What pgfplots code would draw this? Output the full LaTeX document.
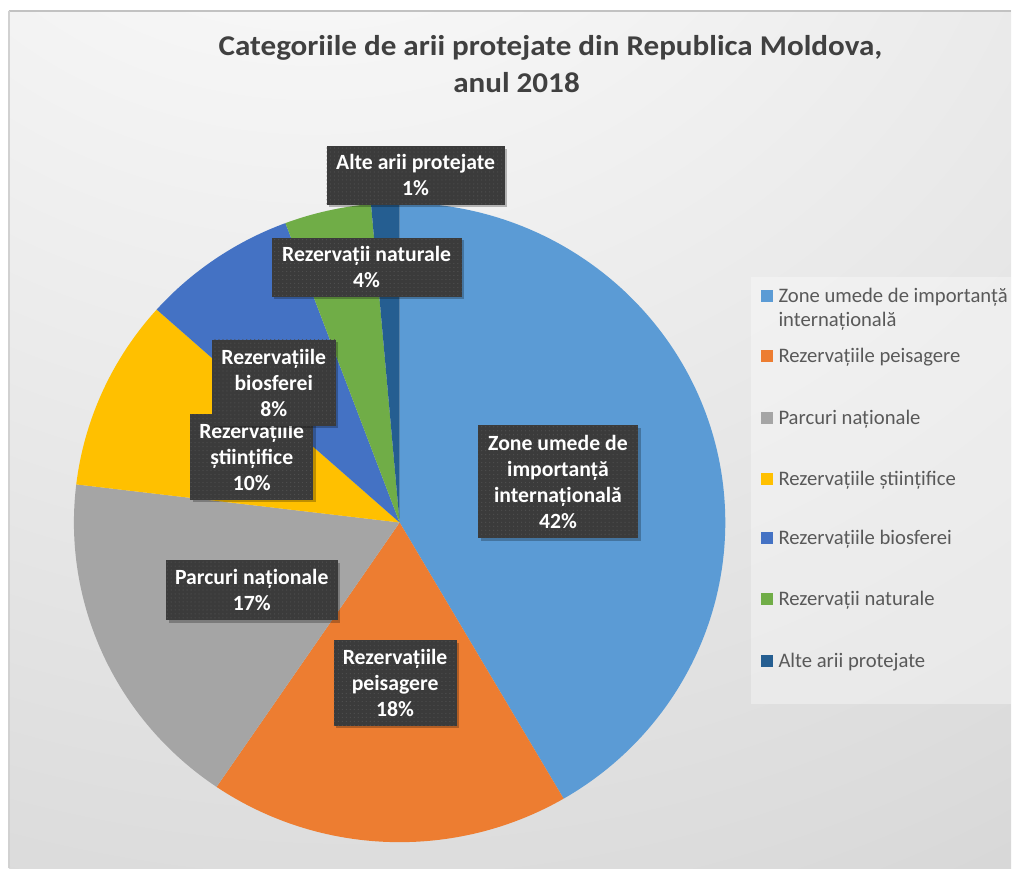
\documentclass[border=0pt]{standalone}
\usepackage{pgfplots}
\pgfplotsset{compat=1.18}
\usepackage{pgfplotstable}
\usepackage{fontspec}
\setmainfont{Carlito}
\newfontfamily\titlefont[FakeStretch=1.086]{Carlito}
\usetikzlibrary{shadows,patterns}

\definecolor{slice0}{HTML}{5B9BD5}
\definecolor{slice1}{HTML}{ED7D31}
\definecolor{slice2}{HTML}{A5A5A5}
\definecolor{slice3}{HTML}{FFC000}
\definecolor{slice4}{HTML}{4472C4}
\definecolor{slice5}{HTML}{70AD47}
\definecolor{slice6}{HTML}{255E91}
\definecolor{lblbg}{HTML}{3B3B3B}
\definecolor{lbldot}{HTML}{4E4E4E}
\definecolor{titlecol}{HTML}{404040}
\definecolor{legtext}{HTML}{595959}

\pgfdeclareradialshading{bgshade}{\pgfpoint{-11bp}{46bp}}{%
  color(0bp)=(white);
  color(15bp)=(white!97!black);
  color(40bp)=(white!91!black);
  color(60bp)=(white!86!black);
  color(90bp)=(white!77!black);
  color(130bp)=(white!72!black);
  color(200bp)=(white!72!black)}

\pgfplotstableread{
value
41.6
17.9
17.4
9.7
7.7
4.3
1.4
}\piedata

\tikzset{lbl/.style={fill=lblbg, text=white,
  font=\bfseries\fontsize{16.3bp}{19.5bp}\selectfont,
  align=center, inner sep=0pt,
  drop shadow={shadow xshift=2bp, shadow yshift=-2bp, opacity=0.25, fill=black},
  postaction={pattern=dots, pattern color=lbldot}}}

\newcommand\lbl[5]{\node[lbl, minimum width={#3*0.75bp}, minimum height={#4*0.75bp}] at (axis cs:#1,{869-#2}) {#5};}
\newcommand\legitem[3]{%
  \fill[#1] (axis cs:762,{869-#2+6}) rectangle (axis cs:774,{869-#2-6});
  \node[anchor=base west, inner sep=0pt, text=legtext, font=\fontsize{15.5bp}{18bp}\selectfont] at (axis cs:779,{869-#2-6.5}) {#3};}

\begin{document}
\begin{tikzpicture}
\begin{axis}[
  x=0.75bp, y=0.75bp, xmin=0, xmax=1012, ymin=0, ymax=869,
  scale only axis, hide axis, clip=false,
]
% background
\fill[white] (axis cs:0,0) rectangle (axis cs:1012,869);
\shade[shading=bgshade] (axis cs:9,0) rectangle (axis cs:1012,858);
\draw[color=white!76!black, line width=1.5bp] (axis cs:9,858) -- (axis cs:1012,858);
\draw[color=white!82!black, line width=0.8bp] (axis cs:9,0) -- (axis cs:9,858);

% title
\node[text=titlecol, font=\titlefont\bfseries\fontsize{21.5bp}{26bp}\selectfont, anchor=base, inner sep=0pt] at (axis cs:551,{869-56}) {Categoriile de arii protejate din Republica Moldova,};
\node[text=titlecol, font=\titlefont\bfseries\fontsize{21.5bp}{26bp}\selectfont, anchor=base, inner sep=0pt] at (axis cs:517,{869-93}) {anul 2018};

% pie slices from the table
\pgfplotsextra{%
  \gdef\cum{0}%
  \pgfplotsforeachungrouped \i in {0,...,6}{%
    \pgfplotstablegetelem{\i}{value}\of\piedata
    \pgfmathsetmacro\aone{90-3.6*\cum}%
    \pgfmathsetmacro\cumnew{\cum+\pgfplotsretval}%
    \global\let\cum\cumnew
    \pgfmathsetmacro\atwo{90-3.6*\cum}%
    \fill[slice\i] (axis cs:400,346) -- ++(\aone:244.5bp and 240bp)
      arc[start angle=\aone, end angle=\atwo, x radius=244.5bp, y radius=240bp] -- cycle;
  }%
}

% data labels
\lbl{558.5}{482}{160}{113}{Zone umede de\\importanță\\internațională\\42\%}
\lbl{395.5}{683.5}{123}{86}{Rezervațiile\\peisagere\\18\%}
\lbl{252}{590.5}{172}{60}{Parcuri naționale\\17\%}
\lbl{252}{457}{123}{86}{Rezervațiile\\științifice\\10\%}
\lbl{274}{383}{124}{86}{Rezervațiile\\biosferei\\8\%}
\lbl{367}{267.5}{190}{59}{Rezervații naturale\\4\%}
\lbl{416}{175.5}{178}{59}{Alte arii protejate\\1\%}

% legend
\fill[white, fill opacity=0.35] (axis cs:752,{869-277}) rectangle (axis cs:1012,{869-705});
\legitem{slice0}{296}{Zone umede de importanță}
\node[anchor=base west, inner sep=0pt, text=legtext, font=\fontsize{15.5bp}{18bp}\selectfont] at (axis cs:779,{869-320-6.5}) {internațională};
\legitem{slice1}{356}{Rezervațiile peisagere}
\legitem{slice2}{418}{Parcuri naționale}
\legitem{slice3}{479}{Rezervațiile științifice}
\legitem{slice4}{539}{Rezervațiile biosferei}
\legitem{slice5}{600}{Rezervații naturale}
\legitem{slice6}{662}{Alte arii protejate}
\end{axis}
\end{tikzpicture}
\end{document}
